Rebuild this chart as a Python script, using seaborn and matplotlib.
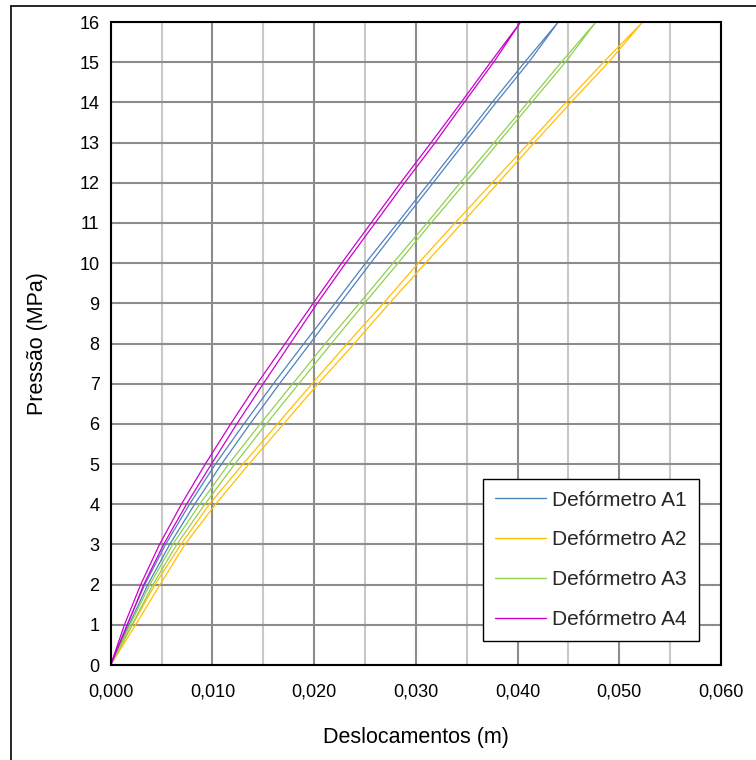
import numpy as np
import pandas as pd
import seaborn as sns
import matplotlib
matplotlib.use("Agg")
import matplotlib.pyplot as plt
from matplotlib.ticker import MultipleLocator, FuncFormatter
from matplotlib.lines import Line2D

# Pressure levels (MPa) at which displacements were read
pressao = [0, 1, 2, 3, 4, 5, 6, 7, 8, 9, 10, 11, 12, 13, 14, 15, 16]

# Displacements (m) per gauge: loading branch and unloading branch
a1_carga = [0, 0.0018, 0.00365, 0.0058, 0.00825, 0.0109, 0.0137, 0.0166, 0.0196, 0.02255,
            0.02555, 0.0286, 0.0317, 0.0348, 0.0379, 0.0411, 0.0440]
a1_descarga = [0, 0.0016, 0.00335, 0.0054, 0.00775, 0.0103, 0.0131, 0.0160, 0.0190, 0.02205,
               0.02505, 0.0282, 0.0313, 0.0344, 0.0375, 0.0407, 0.0440]

a2_carga = [0, 0.00245, 0.00485, 0.0073, 0.0103, 0.0136, 0.0170, 0.0204, 0.02395, 0.0274,
            0.03095, 0.03455, 0.0381, 0.04165, 0.04525, 0.04895, 0.0523]
a2_descarga = [0, 0.00215, 0.00435, 0.0069, 0.0097, 0.0130, 0.0164, 0.0198, 0.02325, 0.0268,
               0.03025, 0.03385, 0.0375, 0.04115, 0.04475, 0.04845, 0.0523]

a3_carga = [0, 0.0021, 0.00415, 0.0065, 0.00925, 0.0122, 0.0153, 0.0185, 0.0217, 0.02495,
            0.02825, 0.0315, 0.03485, 0.0381, 0.0414, 0.0447, 0.0477]
a3_descarga = [0, 0.0019, 0.00385, 0.0061, 0.00875, 0.0116, 0.0147, 0.0179, 0.0211, 0.02445,
               0.02775, 0.0311, 0.03435, 0.0377, 0.0410, 0.0443, 0.0477]

a4_carga = [0, 0.00165, 0.00325, 0.0052, 0.00745, 0.0099, 0.0124, 0.0150, 0.01765, 0.0203,
            0.0231, 0.0260, 0.0289, 0.0319, 0.03475, 0.03765, 0.0403]
a4_descarga = [0, 0.00135, 0.00295, 0.0048, 0.00695, 0.0093, 0.0118, 0.0144, 0.01715, 0.0199,
               0.0227, 0.0256, 0.0285, 0.0315, 0.03445, 0.03735, 0.0403]

series = ["Defórmetro A1", "Defórmetro A2", "Defórmetro A3", "Defórmetro A4"]
cores = ["#4F81BD", "#FFC000", "#92D050", "#CC00CC"]
ramos = [(a1_carga, a1_descarga), (a2_carga, a2_descarga),
         (a3_carga, a3_descarga), (a4_carga, a4_descarga)]

# Long table: each gauge is one closed path (up on loading, back down on unloading)
linhas = []
for nome, (carga, descarga) in zip(series, ramos):
    for d, p in zip(carga, pressao):
        linhas.append((nome, d, p))
    for d, p in zip(descarga[::-1], pressao[::-1]):
        linhas.append((nome, d, p))
df = pd.DataFrame(linhas, columns=["serie", "desloc", "pressao"])

sns.set_theme(style="white")
plt.rcParams["font.family"] = ["Liberation Sans", "DejaVu Sans"]

fig = plt.figure(figsize=(7.56, 7.60), dpi=100)
ax = fig.add_axes([0.1464, 0.125, 0.8073, 0.846])

sns.lineplot(data=df, x="desloc", y="pressao", hue="serie", hue_order=series,
             palette=cores, sort=False, estimator=None, linewidth=0.9, ax=ax)

ax.set_xlim(0, 0.060)
ax.set_ylim(0, 16)
ax.xaxis.set_major_locator(MultipleLocator(0.010))
ax.xaxis.set_minor_locator(MultipleLocator(0.005))
ax.yaxis.set_major_locator(MultipleLocator(1))
ax.xaxis.set_major_formatter(FuncFormatter(lambda v, _: f"{v:.3f}".replace(".", ",")))

ax.set_axisbelow(True)
ax.grid(which="major", axis="both", color="#8C8C8C", linewidth=1.5)
ax.grid(which="minor", axis="x", color="#C8C8C8", linewidth=1.5)

for s in ax.spines.values():
    s.set_color("black")
    s.set_linewidth(1.5)

ax.tick_params(axis="both", which="both", length=0, labelsize=13, colors="black")
ax.tick_params(axis="x", pad=13)
ax.tick_params(axis="y", pad=8)

ax.set_xlabel("Deslocamentos (m)", fontsize=15.5, color="black")
ax.set_ylabel("Pressão (MPa)", fontsize=15.5, color="black")
ax.xaxis.set_label_coords(0.5, -0.0964)
ax.yaxis.set_label_coords(-0.103, 0.5)

leg = ax.legend(loc="lower right", bbox_to_anchor=(0.964, 0.037), fontsize=15,
                frameon=True, fancybox=False, framealpha=1, edgecolor="black",
                handlelength=2.45, handletextpad=0.3, labelspacing=1.0,
                borderpad=0.58, borderaxespad=0)
leg.get_frame().set_linewidth(1.0)
for h in leg.get_lines():
    h.set_linewidth(1.0)

# Chart-area border along the left and top edges
fig.add_artist(Line2D([11 / 756, 11 / 756], [0, 1 - 6 / 760], transform=fig.transFigure,
                      color="black", linewidth=1.2))
fig.add_artist(Line2D([11 / 756, 1], [1 - 6 / 760, 1 - 6 / 760], transform=fig.transFigure,
                      color="black", linewidth=1.2))

fig.savefig("out.png", dpi=100)
